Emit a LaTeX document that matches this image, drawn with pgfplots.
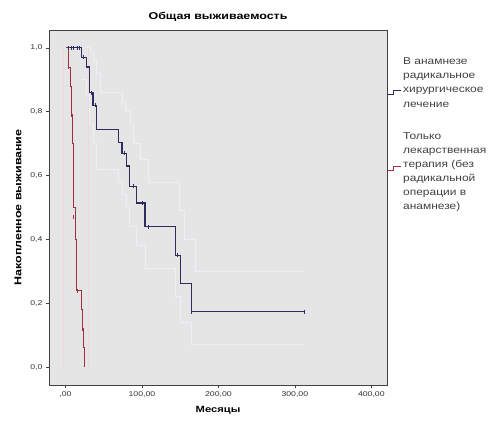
\documentclass[border=0pt]{standalone}
\usepackage{pgfplots}
\pgfplotsset{compat=1.18}
\usepackage{fontspec}
\setmainfont{Liberation Sans}[FakeStretch=1.25]
\newfontfamily\legfont{Liberation Sans}[FakeStretch=1.2]
\definecolor{bg}{RGB}{229,229,229}
\definecolor{kmblue}{RGB}{45,45,95}
\definecolor{kmred}{RGB}{165,45,65}
\definecolor{cipink}{RGB}{242,212,220}
\definecolor{ciblue}{RGB}{238,238,246}
\begin{document}
\begin{tikzpicture}[x=1bp,y=1bp]
\useasboundingbox (-49,-38) rectangle (448,385);
\begin{axis}[
  at={(0,0)}, anchor=south west, scale only axis,
  width=338bp, height=355bp,
  xmin=-21.5, xmax=420.5, ymin=-0.056, ymax=1.056,
  axis background/.style={fill=bg},
  axis line style={black!75, line width=0.8pt},
  xtick={0,100,200,300,400},
  xticklabels={{,00},{100,00},{200,00},{300,00},{400,00}},
  ytick={0,0.2,0.4,0.6,0.8,1.0},
  yticklabels={{0,0},{0,2},{0,4},{0,6},{0,8},{1,0}},
  /pgf/number format/assume math mode=true,
  tick label style={font=\fontsize{7}{8}\selectfont, text=black!80},
  tick align=outside, major tick length=3bp,
  tick style={black!75, line width=0.6pt},
  xtick pos=bottom, ytick pos=left,
  title={Общая выживаемость},
  title style={font=\fontsize{10}{11}\selectfont\bfseries, at={(axis description cs:0.5,1)}, anchor=base, yshift=5bp},
  xlabel={Месяцы},
  xlabel style={font=\fontsize{9}{10}\selectfont\bfseries, at={(axis description cs:0.5,0)}, anchor=base, yshift=-27bp},
  ylabel={Накопленное выживание},
  ylabel style={font=\fontsize{10}{11}\selectfont\bfseries, at={(axis description cs:-0.092,0.5)}, anchor=center},
  clip=false,
]
% red confidence band
\addplot[const plot, color=cipink, line width=0.8pt] coordinates {(-3,1.0)(-3,0.0)};
\addplot[const plot, color=cipink, line width=0.8pt] coordinates {(30,1.0)(30,0.0)};
% blue confidence lines
\addplot[const plot, color=ciblue, line width=0.8pt] coordinates {
 (21,0.90)(27,0.85)(31,0.76)(36,0.70)(41,0.62)(69,0.58)(74,0.54)(80,0.50)(84,0.44)(93,0.38)(104,0.31)(144,0.22)(150,0.14)(165,0.07)(312,0.07)};
\addplot[const plot, color=ciblue, line width=0.8pt] coordinates {
 (26,1.0)(32,0.99)(36,0.96)(41,0.92)(46,0.86)(74,0.83)(79,0.80)(85,0.76)(89,0.70)(98,0.65)(109,0.58)(149,0.49)(155,0.40)(170,0.30)(312,0.30)};
% blue survival curve
\addplot[const plot, color=kmblue, line width=1.1pt] coordinates {
 (1,1.0)(21,0.97)(27,0.94)(31,0.86)(36,0.82)(41,0.743)(69,0.705)(74,0.67)(80,0.63)(84,0.567)(93,0.514)(104,0.44)(144,0.35)(150,0.263)(165,0.174)(312,0.174)};
% blue censored marks
\addplot[only marks, mark=|, mark size=2bp, color=kmblue, line width=0.8pt] coordinates {
 (4,1.0)(8,1.0)(11,1.0)(15,1.0)(18,1.0)(24,0.97)(34,0.86)(39,0.82)(77,0.67)(89,0.567)(101,0.514)(108,0.44)(147,0.35)(165,0.174)(312,0.174)};
% red survival curve
\addplot[const plot, color=kmred, line width=1.0pt] coordinates {
 (1,1.0)(4.5,0.94)(6,0.88)(7.5,0.79)(9,0.70)(10,0.60)(11,0.50)(12.5,0.40)(14,0.32)(15,0.24)(21.5,0.18)(22.5,0.12)(24,0.06)(25.5,0.0)};
% red censored marks
\addplot[only marks, mark=|, mark size=2bp, color=kmred, line width=0.8pt] coordinates {
 (4.5,0.94)(7.5,0.79)(11,0.47)(16,0.24)(22.5,0.12)};
\end{axis}
% legend
\draw[kmblue, line width=0.8pt] (338,291) -- (344,291) -- (344,295) -- (352,295);
\node[anchor=north west, align=left, font=\legfont\fontsize{10}{14.4}\selectfont, text=black!75, inner sep=0pt] at (354,328)
 {В анамнезе\\радикальное\\хирургическое\\лечение};
\draw[kmred, line width=0.8pt] (338,215) -- (344,215) -- (344,219) -- (352,219);
\node[anchor=north west, align=left, font=\legfont\fontsize{10}{14.2}\selectfont, text=black!75, inner sep=0pt] at (354,253)
 {Только\\лекарственная\\терапия (без\\радикальной\\операции в\\анамнезе)};
\end{tikzpicture}
\end{document}
